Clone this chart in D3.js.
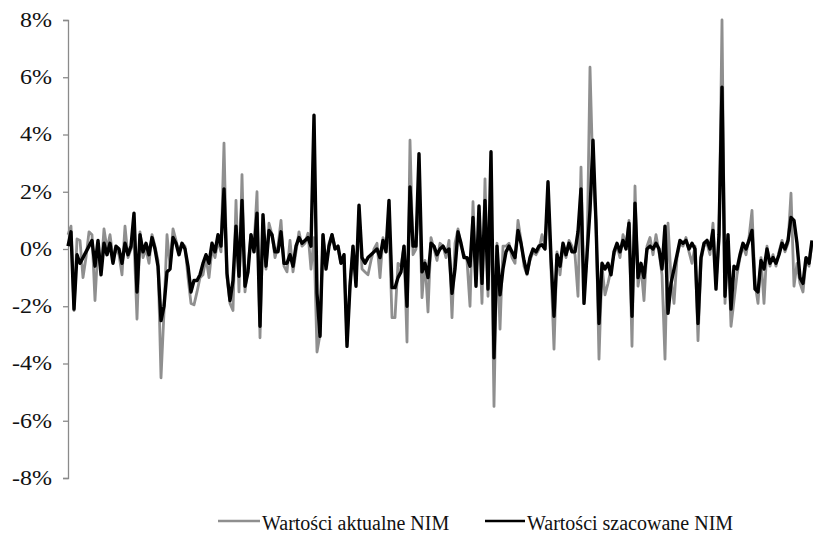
<!DOCTYPE html>
<html>
<head>
<meta charset="utf-8">
<script src="https://cdn.jsdelivr.net/npm/d3@7"></script>
<style>
    body { margin: 0; background: #fff; }
</style>
</head>
<body>
<div id="visualization"></div>
<script>
// NIM monthly changes (in %)
const actualNIM = [
    0.5, 0.8, -2.15, 0.35, 0.3, -1.0, -0.3, 0.6, 0.5, -1.8,
    0.1, -0.8, 0.7, 0.0, 0.5, -0.3, 0.0, -0.2, -0.9, 0.8,
    -0.3, 0.0, 0.3, -2.45, 0.6, -0.3, 0.0, -0.5, 0.5, 0.1,
    -0.4, -4.5, -2.2, 0.5, -0.6, 0.7, 0.3, -0.1, 0.2, 0.1,
    -1.0, -1.9, -1.95, -1.5, -1.0, -0.9, -0.3, -1.0, 0.0, -0.3,
    0.3, -0.1, 3.7, -1.0, -1.9, -2.15, 1.7, -1.5, 2.6, -1.5,
    -0.6, 0.5, 0.1, 2.0, -3.1, 0.9, -0.7, 0.9, 0.5, -0.3,
    0.1, 1.0, -0.6, -0.8, 0.3, -0.8, -0.1, 0.6, 0.1, 0.2,
    0.55, -0.7, 0.4, -3.6, -3.0, 0.5, -0.6, 0.2, 0.5, 0.1,
    0.0, -0.5, -0.2, -3.2, -1.2, 0.0, -1.1, 1.3, -0.7, -0.8,
    -0.9, -0.4, 0.0, 0.2, -1.0, 0.4, 0.0, 0.8, -2.4, -2.4,
    -0.5, -0.6, 0.1, -3.25, 3.8, -0.2, 0.0, 2.2, -1.7, -0.4,
    -2.2, 0.4, 0.0, -0.4, 0.2, 0.1, -0.3, 0.3, -2.4, 0.2,
    0.7, 0.1, -0.2, -0.4, -2.0, 1.65, -1.0, 0.8, -1.9, 2.45,
    -1.65, 1.6, -5.5, 0.2, -2.8, 0.1, 0.1, 0.2, -0.3, -0.5,
    1.0, 0.3, -0.6, -0.9, -0.4, -0.1, -0.2, 0.0, 0.5, 0.1,
    1.8, -0.7, -3.5, -0.1, -0.9, 0.1, -0.3, 0.3, 0.1, -0.2,
    -1.65, 2.86, -1.5, -0.3, 6.35, 2.5, 1.0, -3.85, -0.6, -1.6,
    -1.2, -0.7, -0.2, 0.1, -0.3, 0.5, 0.1, 1.0, -3.4, 2.2,
    -1.3, -0.6, -1.8, 0.1, 0.4, -0.2, 0.5, -0.1, -0.9, -3.85,
    0.9, -1.0, -1.9, -0.3, 0.2, 0.1, 0.4, -0.1, -0.5, 0.1,
    -3.2, -0.4, 0.1, 0.2, -0.2, 0.9, -1.2, 0.3, 8.0, -1.9,
    0.2, -2.7, -1.8, -0.9, -0.3, 0.1, -0.2, 0.4, 1.35, -1.2,
    -1.9, -0.3, -1.9, 0.1, -0.6, -0.2, -0.6, -0.1, 0.3, -0.1,
    0.2, 1.95, -1.3, -0.5, -1.2, -1.5, -0.4, -0.6, 0.2
];

const estimatedNIM = [
    0.1, 0.6, -2.1, -0.2, -0.5, -0.3, -0.1, 0.1, 0.3, -0.6,
    0.3, -0.9, 0.2, -0.2, 0.2, -0.5, 0.1, 0.0, -0.5, 0.2,
    -0.2, 0.1, 1.25, -1.5, 0.5, -0.1, 0.2, -0.2, 0.4, 0.0,
    -0.6, -2.5, -2.0, -0.8, -0.7, 0.4, 0.2, -0.2, 0.2, 0.0,
    -0.6, -1.5, -1.1, -1.1, -0.9, -0.5, -0.2, -0.5, 0.2, -0.1,
    0.5, 0.1, 2.1, -0.85, -1.8, -1.1, 0.8, -0.95, 1.7, -1.3,
    -0.8, 0.5, -0.1, 1.25, -2.7, 1.2, -0.6, 0.65, 0.5, -0.1,
    -0.1, 0.6, -0.5, -0.5, -0.2, -0.6, 0.1, 0.4, 0.2, 0.3,
    0.4, 0.1, 4.67, -1.55, -3.05, 0.5, -0.7, 0.1, 0.5, 0.0,
    0.1, -0.5, -0.2, -3.4, -1.3, 0.1, -1.3, 1.53, -0.3, -0.5,
    -0.3, -0.2, -0.1, 0.0, -0.3, 0.3, -0.1, 1.7, -1.35, -1.35,
    -1.0, -0.8, 0.1, -2.0, 2.17, 0.1, 0.1, 3.33, -0.8, -0.5,
    -1.0, 0.2, 0.1, -0.2, 0.0, 0.1, -0.1, 0.0, -1.55, -0.7,
    0.6, 0.2, -0.3, -0.3, -0.6, 1.1, -1.3, 1.5, -1.2, 1.7,
    -1.4, 3.4, -3.8, 0.1, -1.6, -0.7, -0.1, 0.1, -0.1, -0.3,
    0.65, 0.2, -0.4, -0.85, -0.3, 0.0, -0.1, 0.1, 0.15, 0.0,
    2.35, -0.3, -2.35, -0.2, -0.6, 0.2, -0.2, 0.2, -0.1, -0.1,
    0.6, 2.1, -1.9, -0.2, 1.35, 3.8, 0.9, -2.6, -0.5, -0.7,
    -0.5, -0.9, -0.1, 0.2, -0.1, 0.3, 0.0, 0.9, -2.35, 1.6,
    -1.0, -0.5, -1.0, 0.0, 0.1, 0.0, 0.2, 0.0, -0.7, 0.8,
    -2.25, -1.2, -0.7, -0.2, 0.3, 0.2, 0.3, 0.0, 0.2, 0.0,
    -2.6, -0.3, 0.2, 0.3, 0.0, 0.65, -1.4, 0.5, 5.65, -1.65,
    0.5, -2.1, -0.6, -0.7, -0.2, 0.2, 0.0, 0.3, 0.65, -1.4,
    -1.5, -0.4, -0.7, 0.0, -0.5, -0.3, -0.5, -0.2, 0.2, 0.0,
    0.3, 1.1, 1.0, 0.2, -1.0, -1.2, -0.3, -0.5, 0.3
];

const yTicks = [-8, -6, -4, -2, 0, 2, 4, 6, 8];
const legendLabels = ["Wartości aktualne NIM", "Wartości szacowane NIM"];

const serif = "Liberation Serif";
const width = 813;
const height = 533;
const margin = {top: 20, right: 1, bottom: 55, left: 68};

const svg = d3.select("#visualization")
    .append("svg")
    .attr("width", width)
    .attr("height", height);

const x = d3.scaleLinear()
    .domain([0, actualNIM.length - 1])
    .range([margin.left, width - margin.right]);

const y = d3.scaleLinear()
    .domain([-8, 8])
    .range([height - margin.bottom, margin.top]);

// y axis
const yAxis = svg.append("g")
    .attr("transform", `translate(${margin.left},0)`)
    .call(d3.axisLeft(y).tickValues(yTicks).tickSize(5).tickPadding(11)
        .tickFormat((d) => d + "%"));

yAxis.attr("font-family", serif).attr("font-size", 20);
yAxis.select(".domain").attr("stroke", "#8a8a8a").attr("stroke-width", 1.3);
yAxis.selectAll(".tick line").attr("stroke", "#8a8a8a").attr("stroke-width", 1.3);
// labels in the original are a little wider than the font
yAxis.selectAll(".tick text")
    .attr("fill", "#111")
    .attr("x", -16 / 1.2)
    .attr("transform", "scale(1.2,1)");

const line = d3.line()
    .x((d, i) => x(i))
    .y((d) => y(d));

svg.append("path")
    .datum(actualNIM)
    .attr("fill", "none")
    .attr("stroke", "#8f8f8f")
    .attr("stroke-width", 2.8)
    .attr("stroke-linejoin", "round")
    .attr("d", line);

svg.append("path")
    .datum(estimatedNIM)
    .attr("fill", "none")
    .attr("stroke", "#000")
    .attr("stroke-width", 3.4)
    .attr("stroke-linejoin", "round")
    .attr("d", line);

// legend
const legend = svg.append("g").attr("transform", "translate(0,521)");
const legendItems = [
    {label: legendLabels[0], color: "#8f8f8f", x: 218, len: 42},
    {label: legendLabels[1], color: "#000", x: 485, len: 40}
];

legendItems.forEach((d) => {
    legend.append("line")
        .attr("x1", d.x).attr("x2", d.x + d.len)
        .attr("y1", 0).attr("y2", 0)
        .attr("stroke", d.color)
        .attr("stroke-width", 2.6);
    legend.append("text")
        .attr("x", d.x + d.len + 2)
        .attr("y", 9)
        .attr("font-family", serif)
        .attr("font-size", 20)
        .attr("fill", "#111")
        .text(d.label);
});
</script>
</body>
</html>
